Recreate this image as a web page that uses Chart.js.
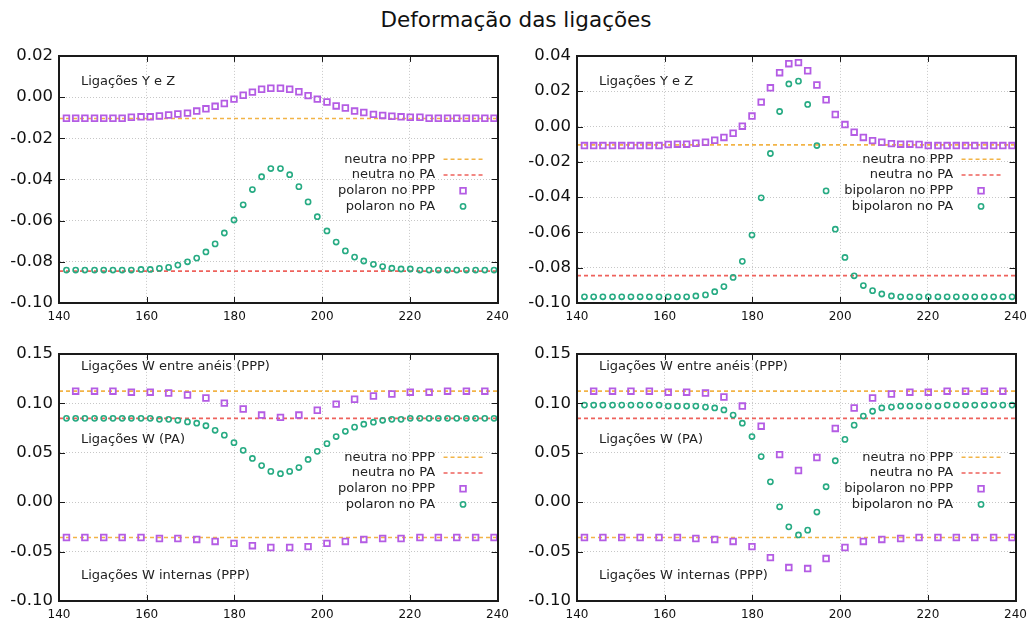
<!DOCTYPE html>
<html>
<head>
<meta charset="utf-8">
<title>Deformação das ligações</title>
<script src="https://cdn.jsdelivr.net/npm/chart.js@4"></script>
<style>
    body { margin: 0; background: #fff; font-family: 'DejaVu Sans', sans-serif; }
    #page { position: relative; width: 1032px; height: 622px; overflow: hidden; }
    #title { position: absolute; left: 0; top: 7px; width: 1032px; text-align: center; font-size: 21.5px; color: #111; }
    canvas { position: absolute; }
    #c1 { left: 0; top: 40px; }
    #c2 { left: 518px; top: 40px; }
    #c3 { left: 0; top: 338px; }
    #c4 { left: 518px; top: 338px; }
</style>
</head>
<body>
<div id="page">
    <div id="title">Deformação das ligações</div>
    <canvas id="c1" width="516" height="285"></canvas>
    <canvas id="c2" width="516" height="285"></canvas>
    <canvas id="c3" width="516" height="285"></canvas>
    <canvas id="c4" width="516" height="285"></canvas>
</div>
<script>
// posição das ligações (eixo x)
const bondPos = [141.7, 143.8, 145.9, 148.1, 150.2, 152.3, 154.4, 156.5, 158.7, 160.8,
    162.9, 165.0, 167.1, 169.3, 171.4, 173.5, 175.6, 177.7, 179.9, 182.0,
    184.1, 186.2, 188.3, 190.5, 192.6, 194.7, 196.8, 198.9, 201.1, 203.2,
    205.3, 207.4, 209.5, 211.7, 213.8, 215.9, 218.0, 220.1, 222.3, 224.4,
    226.5, 228.6, 230.7, 232.9, 235.0, 237.1, 239.2];
const xRange = [140, 240];

// Ligações Y e Z
const yzNeutraPPP = [-0.0104];
const yzNeutraPA = [-0.0845];
const yzPolaronPPP = [-0.0103, -0.0103, -0.0103, -0.0103, -0.0103, -0.0103, -0.0103, -0.0098, -0.0096, -0.0096,
    -0.0092, -0.0087, -0.0082, -0.0078, -0.0068, -0.0057, -0.0045, -0.0031, -0.0010, 0.0009,
    0.0024, 0.0038, 0.0043, 0.0043, 0.0038, 0.0026, 0.0007, -0.0010, -0.0024, -0.0043,
    -0.0053, -0.0068, -0.0075, -0.0084, -0.0089, -0.0093, -0.0096, -0.0098, -0.0098, -0.0103,
    -0.0103, -0.0103, -0.0103, -0.0103, -0.0103, -0.0103, -0.0103];
const yzPolaronPA = [-0.0840, -0.0840, -0.0840, -0.0840, -0.0840, -0.0840, -0.0840, -0.0840, -0.0837, -0.0837,
    -0.0832, -0.0827, -0.0816, -0.0800, -0.0782, -0.0752, -0.0713, -0.0660, -0.0597, -0.0523,
    -0.0449, -0.0387, -0.0347, -0.0347, -0.0377, -0.0435, -0.0509, -0.0581, -0.0650, -0.0704,
    -0.0747, -0.0777, -0.0796, -0.0812, -0.0823, -0.0831, -0.0835, -0.0835, -0.0840, -0.0840,
    -0.0840, -0.0840, -0.0840, -0.0840, -0.0840, -0.0840, -0.0840];
const yzBipolaronPPP = [-0.0108, -0.0108, -0.0108, -0.0108, -0.0108, -0.0108, -0.0108, -0.0108, -0.0108, -0.0102,
    -0.0100, -0.0100, -0.0095, -0.0089, -0.0078, -0.0062, -0.0038, 0.0002, 0.0059, 0.0138,
    0.0219, 0.0305, 0.0356, 0.0362, 0.0316, 0.0235, 0.0151, 0.0068, 0.0011, -0.0032,
    -0.0062, -0.0080, -0.0089, -0.0097, -0.0100, -0.0100, -0.0102, -0.0108, -0.0108, -0.0108,
    -0.0108, -0.0108, -0.0108, -0.0108, -0.0108, -0.0108, -0.0108];
const yzBipolaronPA = [-0.0965, -0.0965, -0.0965, -0.0965, -0.0965, -0.0965, -0.0965, -0.0965, -0.0965, -0.0965,
    -0.0965, -0.0965, -0.0960, -0.0954, -0.0936, -0.0907, -0.0855, -0.0764, -0.0615, -0.0404,
    -0.0153, 0.0085, 0.0241, 0.0257, 0.0125, -0.0108, -0.0365, -0.0582, -0.0742, -0.0846,
    -0.0901, -0.0930, -0.0949, -0.0960, -0.0965, -0.0965, -0.0965, -0.0965, -0.0965, -0.0965,
    -0.0965, -0.0965, -0.0965, -0.0965, -0.0965, -0.0965, -0.0965];

// Ligações W (PPP: pares = internas, ímpares = entre anéis)
const wNeutraPPP = [0.1123, -0.0358];
const wNeutraPA = [0.0848];
const wPolaronPPP = [-0.0358, 0.1123, -0.0358, 0.1123, -0.0358, 0.1123, -0.0358, 0.1113, -0.0358, 0.1113,
    -0.0368, 0.1104, -0.0368, 0.1084, -0.0377, 0.1054, -0.0397, 0.1002, -0.0417, 0.0943,
    -0.0440, 0.0881, -0.0459, 0.0858, -0.0459, 0.0881, -0.0450, 0.0930, -0.0417, 0.0992,
    -0.0397, 0.1041, -0.0377, 0.1074, -0.0368, 0.1094, -0.0368, 0.1113, -0.0358, 0.1113,
    -0.0358, 0.1123, -0.0358, 0.1123, -0.0358, 0.1123, -0.0358];
const wPolaronPA = [0.0848, 0.0848, 0.0848, 0.0848, 0.0848, 0.0848, 0.0848, 0.0848, 0.0848, 0.0848,
    0.0838, 0.0838, 0.0828, 0.0812, 0.0799, 0.0773, 0.0727, 0.0678, 0.0602, 0.0524,
    0.0442, 0.0370, 0.0311, 0.0288, 0.0311, 0.0350, 0.0432, 0.0514, 0.0592, 0.0664,
    0.0717, 0.0759, 0.0789, 0.0809, 0.0828, 0.0838, 0.0838, 0.0848, 0.0848, 0.0848,
    0.0848, 0.0848, 0.0848, 0.0848, 0.0848, 0.0848, 0.0848];
const wBipolaronPPP = [-0.0358, 0.1123, -0.0358, 0.1123, -0.0358, 0.1123, -0.0358, 0.1123, -0.0358, 0.1113,
    -0.0358, 0.1113, -0.0368, 0.1104, -0.0377, 0.1064, -0.0397, 0.0972, -0.0450, 0.0769,
    -0.0561, 0.0481, -0.0662, 0.0320, -0.0672, 0.0451, -0.0571, 0.0746, -0.0459, 0.0953,
    -0.0397, 0.1054, -0.0377, 0.1094, -0.0368, 0.1113, -0.0358, 0.1113, -0.0358, 0.1123,
    -0.0358, 0.1123, -0.0358, 0.1123, -0.0358, 0.1123, -0.0358];
const wBipolaronPA = [0.0982, 0.0982, 0.0982, 0.0982, 0.0982, 0.0982, 0.0982, 0.0982, 0.0982, 0.0972,
    0.0972, 0.0972, 0.0972, 0.0962, 0.0953, 0.0933, 0.0881, 0.0799, 0.0664, 0.0461,
    0.0206, -0.0047, -0.0250, -0.0332, -0.0283, -0.0100, 0.0156, 0.0419, 0.0635, 0.0779,
    0.0871, 0.0920, 0.0953, 0.0962, 0.0972, 0.0972, 0.0972, 0.0972, 0.0972, 0.0982,
    0.0982, 0.0982, 0.0982, 0.0982, 0.0982, 0.0982, 0.0982];

const yzNotes = [{ x: 145, y: 'top', text: 'Ligações Y e Z' }];
const wNotes = [
    { x: 145, y: 0.1376, text: 'Ligações W entre anéis (PPP)' },
    { x: 145, y: 0.0632, text: 'Ligações W (PA)' },
    { x: 145, y: -0.0748, text: 'Ligações W internas (PPP)' }
];

const PURPLE = '#b45ce4';
const GREEN = '#27ab83';
const ORANGE = '#f2b447';
const RED = '#ee625c';
const INK = '#1a1a1a';

Chart.defaults.font.family = "'DejaVu Sans', sans-serif";
Chart.defaults.color = '#111';

function pts(vals) {
    return vals.map((v, i) => ({ x: bondPos[i], y: v }));
}

// linhas horizontais, separadas por null
function hlines(levels) {
    const out = [];
    levels.forEach((v, k) => {
        if (k > 0) out.push({ x: xRange[1], y: null });
        out.push({ x: xRange[0], y: v }, { x: xRange[1], y: v });
    });
    return out;
}

// tiques curtos para dentro nos quatro lados (estilo gnuplot)
function drawTicks(chart) {
    const ctx = chart.ctx;
    const a = chart.chartArea;
    const xs = chart.scales.x, ys = chart.scales.y;
    ctx.save();
    ctx.fillStyle = INK;
    xs.ticks.forEach(t => {
        const p = Math.round(xs.getPixelForValue(t.value));
        ctx.fillRect(p, a.bottom - 6, 1, 6);
        ctx.fillRect(p, a.top, 1, 6);
    });
    ys.ticks.forEach(t => {
        const p = Math.round(ys.getPixelForValue(t.value));
        ctx.fillRect(a.left, p, 6, 1);
        ctx.fillRect(a.right - 6, p, 6, 1);
    });
    ctx.restore();
}

// legenda: texto à direita, amostra ao lado
function drawKey(chart) {
    const ctx = chart.ctx;
    const a = chart.chartArea;
    let yy = a.top + 103.4;
    ctx.save();
    ctx.font = "13px 'DejaVu Sans', sans-serif";
    ctx.textAlign = 'right';
    ctx.textBaseline = 'middle';
    chart.data.datasets.forEach(ds => {
        if (!ds.label) return;
        ctx.fillStyle = '#222';
        ctx.fillText(ds.label, a.right - 62.5, yy);
        ctx.strokeStyle = ds.borderColor;
        if (ds.showLine) {
            ctx.lineWidth = ds.borderWidth;
            ctx.setLineDash(ds.borderDash);
            ctx.beginPath();
            ctx.moveTo(a.right - 54, yy);
            ctx.lineTo(a.right - 15, yy);
            ctx.stroke();
            ctx.setLineDash([]);
        } else {
            ctx.lineWidth = ds.pointBorderWidth;
            ctx.beginPath();
            if (ds.pointStyle === 'rect') {
                const s = Math.SQRT1_2 * ds.pointRadius;
                ctx.rect(a.right - 34.5 - s, yy - s, 2 * s, 2 * s);
            } else {
                ctx.arc(a.right - 34.5, yy, ds.pointRadius, 0, Math.PI * 2);
            }
            ctx.stroke();
        }
        yy += 15.7;
    });
    ctx.restore();
}

const decorPlugin = {
    id: 'decor',
    afterDraw(chart) {
        drawTicks(chart);
        drawKey(chart);
    }
};

const notesPlugin = {
    id: 'notes',
    afterDatasetsDraw(chart, args, opts) {
        const { ctx } = chart;
        const x = chart.scales.x, y = chart.scales.y;
        ctx.save();
        ctx.font = "13px 'DejaVu Sans', sans-serif";
        ctx.fillStyle = '#222';
        ctx.textAlign = 'left';
        ctx.textBaseline = 'middle';
        (opts.items || []).forEach(n => {
            const py = n.y === 'top' ? chart.chartArea.top + 25.7 : y.getPixelForValue(n.y);
            ctx.fillText(n.text, x.getPixelForValue(n.x), py);
        });
        ctx.restore();
    }
};

function makePanel(id, cfg) {
    const lineStyle = { type: 'scatter', showLine: true, pointRadius: 0, borderWidth: 1.6, borderDash: [4, 3], fill: false, order: 10 };
    const datasets = [
        Object.assign({ label: 'neutra no PPP', data: hlines(cfg.neutraPPP), borderColor: ORANGE }, lineStyle),
        Object.assign({ label: 'neutra no PA', data: hlines(cfg.neutraPA), borderColor: RED }, lineStyle),
        {
            label: cfg.kind + ' no PPP', data: pts(cfg.ppp), showLine: false,
            pointStyle: 'rect', pointRadius: 4, pointBorderWidth: 1.8,
            borderColor: PURPLE, backgroundColor: 'rgba(0,0,0,0)', order: 2
        },
        {
            label: cfg.kind + ' no PA', data: pts(cfg.pa), showLine: false,
            pointStyle: 'circle', pointRadius: 2.6, pointBorderWidth: 1.6,
            borderColor: GREEN, backgroundColor: 'rgba(0,0,0,0)', order: 1
        }
    ];
    const frameSide = { display: true, color: INK, width: 2, z: 1 };
    return new Chart(document.getElementById(id), {
        type: 'scatter',
        data: { datasets: datasets },
        options: {
            responsive: false,
            animation: false,
            layout: { padding: { left: 0, right: 15, top: cfg.top, bottom: 0 } },
            plugins: {
                legend: { display: false },
                tooltip: { enabled: false },
                notes: { items: cfg.notes }
            },
            scales: {
                x: {
                    type: 'linear', min: xRange[0], max: xRange[1],
                    ticks: { stepSize: 20, padding: 7, font: { size: 12 }, color: '#111' },
                    grid: { color: 'rgba(0,0,0,0.22)', drawTicks: false },
                    border: Object.assign({ dash: [1, 2] }, frameSide),
                    afterFit: s => { s.height = 22; }
                },
                y: {
                    min: cfg.ymin, max: cfg.ymax,
                    ticks: {
                        stepSize: cfg.step, padding: 6, font: { size: 16.5 }, color: '#111',
                        callback: v => (Math.abs(v) < 1e-9 ? 0 : v).toFixed(2)
                    },
                    grid: { color: 'rgba(0,0,0,0.22)', drawTicks: false },
                    border: Object.assign({ dash: [1, 2] }, frameSide),
                    afterFit: s => { s.width = 59; }
                },
                xTop: {
                    type: 'linear', position: 'top', min: xRange[0], max: xRange[1],
                    ticks: { display: false },
                    grid: { display: false, drawTicks: false },
                    border: frameSide,
                    afterFit: s => { s.height = 0; }
                },
                yRight: {
                    type: 'linear', position: 'right', min: cfg.ymin, max: cfg.ymax,
                    ticks: { display: false },
                    grid: { display: false, drawTicks: false },
                    border: frameSide,
                    afterFit: s => { s.width = 0; }
                }
            }
        },
        plugins: [notesPlugin, decorPlugin]
    });
}

makePanel('c1', { kind: 'polaron', ppp: yzPolaronPPP, pa: yzPolaronPA, neutraPPP: yzNeutraPPP, neutraPA: yzNeutraPA,
    ymin: -0.10, ymax: 0.02, step: 0.02, top: 8, notes: yzNotes });
makePanel('c2', { kind: 'bipolaron', ppp: yzBipolaronPPP, pa: yzBipolaronPA, neutraPPP: yzNeutraPPP, neutraPA: yzNeutraPA,
    ymin: -0.10, ymax: 0.04, step: 0.02, top: 8, notes: yzNotes });
makePanel('c3', { kind: 'polaron', ppp: wPolaronPPP, pa: wPolaronPA, neutraPPP: wNeutraPPP, neutraPA: wNeutraPA,
    ymin: -0.10, ymax: 0.15, step: 0.05, top: 9, notes: wNotes });
makePanel('c4', { kind: 'bipolaron', ppp: wBipolaronPPP, pa: wBipolaronPA, neutraPPP: wNeutraPPP, neutraPA: wNeutraPA,
    ymin: -0.10, ymax: 0.15, step: 0.05, top: 9, notes: wNotes });
</script>
</body>
</html>
